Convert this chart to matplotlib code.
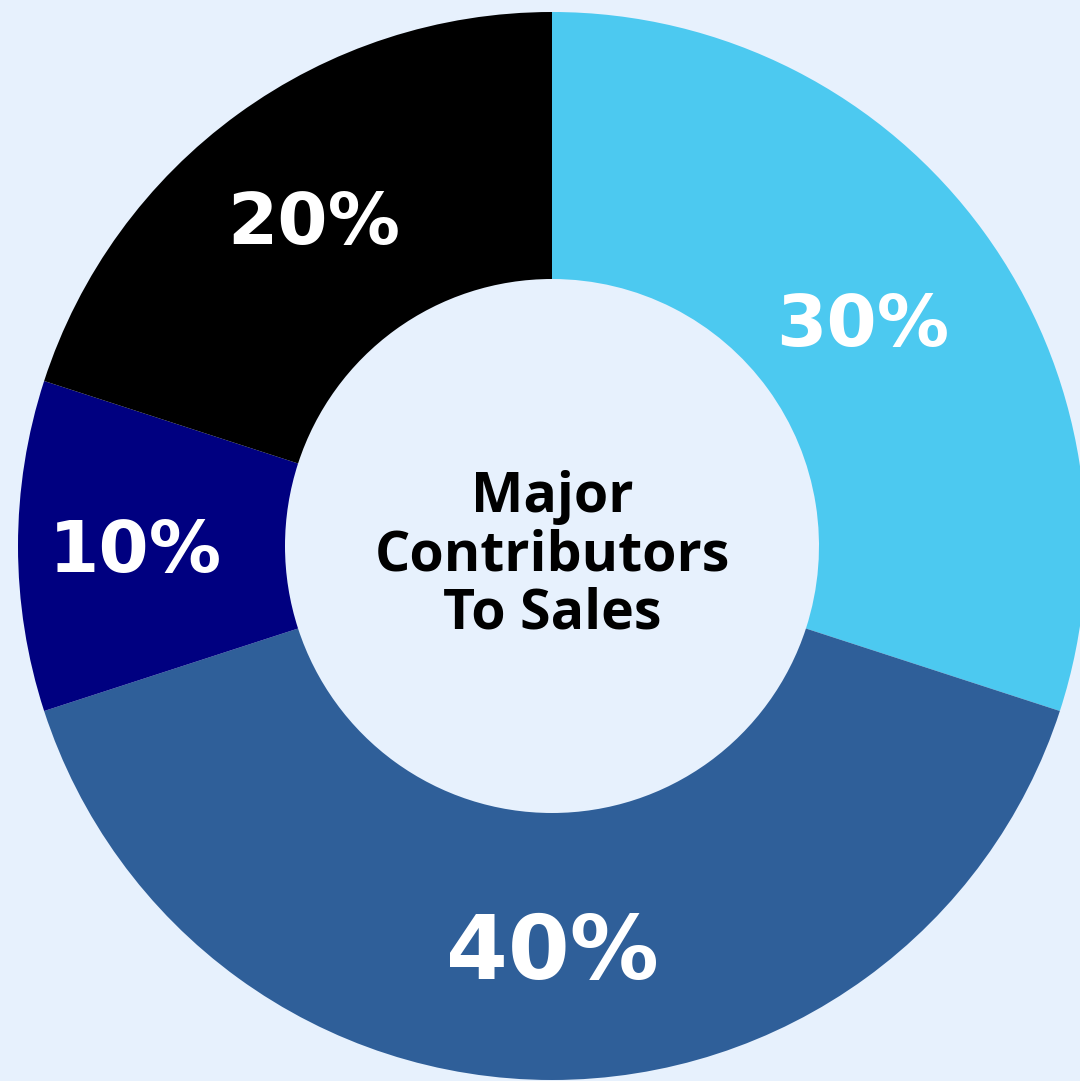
import numpy as np
import matplotlib.pyplot as plt

# sales share by contributor, clockwise from 12 o'clock
shares = [30, 40, 10, 20]
colors = ['#4CC9F0', '#2F5F99', '#000080', '#000000']
label_sizes = [52, 64, 52, 52]
label_radii = [0.72, 0.75, 0.78, 0.76]
bg = '#E7F1FD'

fig = plt.figure(figsize=(10.8, 10.81), dpi=100)
fig.patch.set_facecolor(bg)
ax = fig.add_axes([0, 0, 1, 1])
ax.set_facecolor(bg)

# work in pixel units so the ring can run off the right edge
cx, cy, R = 552, 1081 - 546, 534
wedges, _ = ax.pie(
    shares, colors=colors, startangle=90, counterclock=False,
    center=(cx, cy), radius=R,
    wedgeprops=dict(width=R * 0.5, linewidth=0),
    frame=True)

for w, val, fs, r in zip(wedges, shares, label_sizes, label_radii):
    mid = np.deg2rad((w.theta1 + w.theta2) / 2)
    x = cx + r * R * np.cos(mid)
    y = cy + r * R * np.sin(mid)
    cap = 0.729 * fs * 100 / 72  # cap height in px, keeps digits centred on the point
    ax.text(x, y - cap / 2, f'{val}%', ha='center', va='baseline',
            color='white', fontsize=fs, fontweight='bold', family='DejaVu Sans')

ax.text(cx, cy - 10, 'Major\nContributors\nTo Sales', ha='center', va='center',
        fontsize=40, fontweight='bold', family='Open Sans', color='black',
        linespacing=1.08)

ax.set_xlim(0, 1080)
ax.set_ylim(0, 1081)
ax.set_aspect('equal')
ax.axis('off')

fig.savefig('out.png', dpi=100, facecolor=bg)
